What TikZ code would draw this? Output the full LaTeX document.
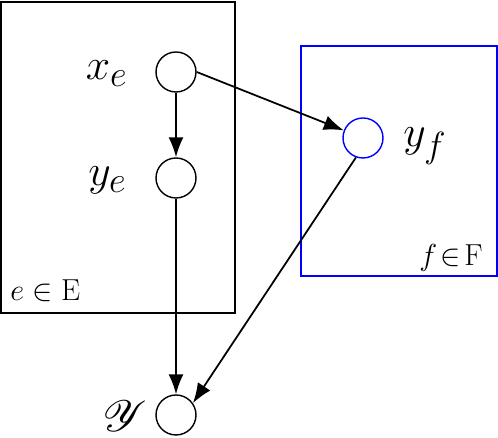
\documentclass[tikz,border=0pt]{standalone}
\usepackage{amsmath,amssymb}
\usepackage{mathrsfs}
\usetikzlibrary{arrows.meta,calc}

\begin{document}
\begin{tikzpicture}[
		var/.style={circle,draw,line width=0.8pt,minimum size=0.8cm,inner sep=0pt},
		plate/.style={draw,line width=1.1pt},
		edge/.style={-{Latex[length=0.4cm,width=0.3cm]},line width=1pt},
		big/.style={font=\fontsize{29}{31}\selectfont,inner sep=0pt},
		small/.style={font=\fontsize{18}{20}\selectfont,inner sep=0pt}]
		\useasboundingbox (0,0) rectangle (9.96,8.76);
		\draw[plate] (0.02,8.72) rectangle (4.70,2.5);
		\draw[plate,blue] (6.02,7.84) rectangle (9.94,3.24);
		\node[var] (xe) at (3.52,7.32) {};
		\node[var] (ye) at (3.52,5.2) {};
		\node[var,blue] (yf) at (7.26,6.0) {};
		\node[var] (y) at (3.52,0.46) {};
		\node[big,anchor=base east] (xelab) at (2.56,7.16) {$x_e$};
		\node[big,anchor=base east] (yelab) at (2.54,5.04) {$y_e$};
		\node[big,anchor=base west] (yflab) at (8.06,5.82) {$y_f$};
		\node[big,anchor=east] (ylab) at (2.94,0.44) {$\mathscr{Y}$};
		\node[small,anchor=base west] (Elab) at (0.2,2.74) {$e \in \mathrm{E}$};
		\node[small,anchor=base east] (Flab) at (9.66,3.44) {$f\!\in\!\mathrm{F}$};
		\draw[edge] (xe) -- (ye);
		\draw[edge] (xe.east) -- (yf);
		\draw[edge] (ye) -- (y);
		\draw[edge] (yf.250) -- (y.35);
	\end{tikzpicture}
\end{document}
